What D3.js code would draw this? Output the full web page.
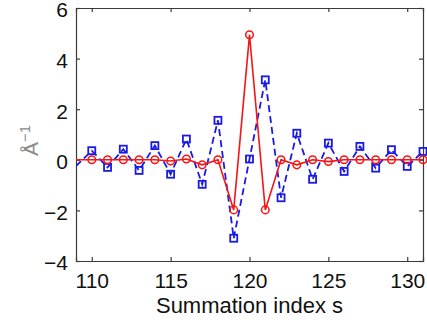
<!DOCTYPE html>
<html><head><meta charset="utf-8">
<script src="https://cdn.jsdelivr.net/npm/d3@7/dist/d3.min.js"></script>
<style>body{margin:0;background:#fff}svg{display:block}</style>
</head><body>
<svg id="c" width="427" height="324"></svg>
<script>
const indices = [109,110,111,112,113,114,115,116,117,118,119,120,121,122,123,124,125,126,127,128,129,130,131];
const blueValues = [-0.25,0.36,-0.3,0.42,-0.42,0.56,-0.57,0.82,-0.97,1.56,-3.1,0.03,3.16,-1.5,1.05,-0.77,0.66,-0.46,0.53,-0.33,0.4,-0.26,0.33];
const redValues = [0,0,0,0,0,0,-0.05,0.03,-0.2,0,-1.98,4.94,-1.98,0,-0.2,0,-0.07,0,0,0,0,0,0];
const xTicks = [110,115,120,125,130];
const yTicks = [-4,-2,0,2,4,6];
const xLabel = "Summation index s";

const svg = d3.select("#c");
const L = 76, R = 423, T = 8, B = 261;
const x = d3.scaleLinear().domain([109, 131]).range([L, R]);
const y = d3.scaleLinear().domain([-4, 6]).range([B, T]);
const axisColor = "#3a3a3a";
const font = "Liberation Sans, Arial, Helvetica, sans-serif";

svg.append("defs").append("clipPath").attr("id","clip")
  .append("rect").attr("x",L).attr("y",T).attr("width",R-L).attr("height",B-T);

const gx = svg.append("g").attr("transform",`translate(0,${B})`)
  .call(d3.axisBottom(x).tickValues(xTicks).tickSize(-4).tickPadding(12));
const gxt = svg.append("g").attr("transform",`translate(0,${T})`)
  .call(d3.axisTop(x).tickValues(xTicks).tickSize(-4).tickFormat(""));
const gy = svg.append("g").attr("transform",`translate(${L},0)`)
  .call(d3.axisLeft(y).tickValues(yTicks).tickSize(-4).tickPadding(8).tickFormat(d => d < 0 ? "\u2212" + Math.abs(d) : d));
const gyr = svg.append("g").attr("transform",`translate(${R},0)`)
  .call(d3.axisRight(y).tickValues(yTicks).tickSize(-4).tickFormat(""));
[gx,gxt,gy,gyr].forEach(g => {
  g.selectAll("path,line").attr("stroke",axisColor).attr("stroke-width",1.2);
  g.selectAll("text").attr("fill","#111").style("font-family",font).style("font-size","21px");
});
gx.selectAll("text").attr("dy","0.71em");
gy.selectAll("text").attr("dy","0.42em");

const data = indices.map((s,i) => ({s, b: blueValues[i], r: redValues[i]}));
const plot = svg.append("g").attr("clip-path","url(#clip)");

const blue = "#1a1ae6", red = "#f51515";
plot.append("path").datum(data)
  .attr("d", d3.line().x(d => x(d.s)).y(d => y(d.b)))
  .attr("fill","none").attr("stroke",blue).attr("stroke-width",1.8).attr("stroke-dasharray","7,4");
const shown = data.filter(d => d.s >= 110);
svg.append("g").selectAll("rect").data(shown).join("rect")
  .attr("x", d => x(d.s) - 3.5).attr("y", d => y(d.b) - 3.5)
  .attr("width",7).attr("height",7)
  .attr("fill","none").attr("stroke",blue).attr("stroke-width",1.8);

plot.append("path").datum(data)
  .attr("d", d3.line().x(d => x(d.s)).y(d => y(d.r)))
  .attr("fill","none").attr("stroke",red).attr("stroke-width",1.6);
svg.append("g").selectAll("circle").data(shown).join("circle")
  .attr("cx", d => x(d.s)).attr("cy", d => y(d.r)).attr("r",3.8)
  .attr("fill","none").attr("stroke",red).attr("stroke-width",1.5);

svg.append("text").attr("x",(L+R)/2).attr("y",313)
  .attr("text-anchor","middle").attr("fill","#111")
  .style("font-family",font).style("font-size","22px").text(xLabel);

const yl = svg.append("text").attr("transform",`translate(38,${(T+B)/2 + 6}) rotate(-90)`)
  .attr("text-anchor","middle").attr("fill","#8a8a8a")
  .style("font-family",font).style("font-size","21px");
yl.append("tspan").text("\u00c5");
yl.append("tspan").attr("dy","-0.55em").style("font-size","15px").text("\u22121");
</script>
</body></html>
